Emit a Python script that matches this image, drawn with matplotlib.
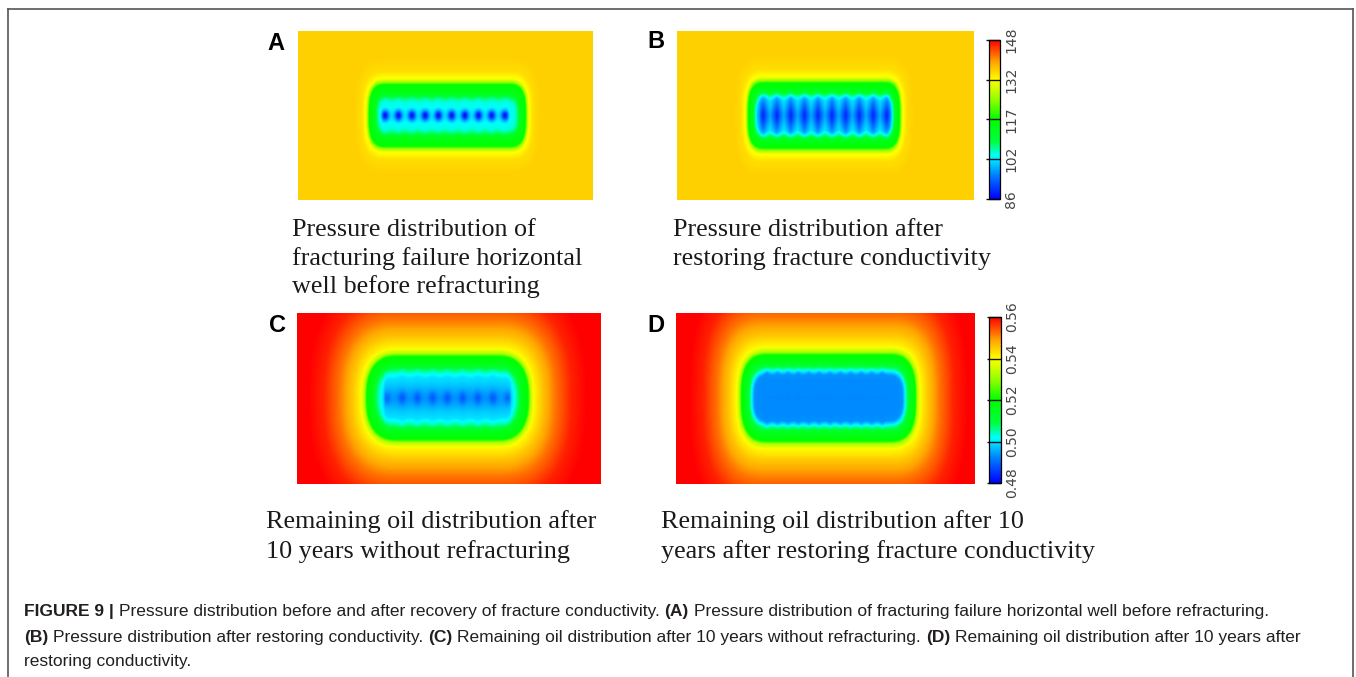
import numpy as np
import matplotlib
matplotlib.use("Agg")
import matplotlib.pyplot as plt
from matplotlib.colors import LinearSegmentedColormap
from matplotlib.lines import Line2D
from matplotlib import font_manager

W, H = 1356, 677

# ---------------- colour scale ----------------
cmap_pos = [0.0, 0.15, 0.27, 0.36, 0.50, 0.62, 0.75, 0.86, 1.0]
cmap_rgb = [(0, 0, 1), (0, 0.5, 1), (0, 1, 1), (0, 1, 0.25), (0, 1, 0),
            (0.55, 1, 0), (1, 1, 0), (1, 0.65, 0), (1, 0, 0)]

pressure_range = [86, 148]
pressure_ticks = ["86", "102", "117", "132", "148"]
oil_range = [0.48, 0.56]
oil_ticks = ["0.48", "0.50", "0.52", "0.54", "0.56"]

# ---------------- field descriptions (fraction of the colour scale) -------
# fracture positions along the well (fraction of panel width)
frac_A = [0.295, 0.340, 0.386, 0.431, 0.476, 0.521, 0.566, 0.612, 0.657, 0.702]
frac_B = [0.290, 0.336, 0.383, 0.429, 0.475, 0.522, 0.568, 0.614, 0.661, 0.707]
frac_C = [0.296, 0.346, 0.396, 0.446, 0.495, 0.545, 0.595, 0.645, 0.694]
frac_D = [0.304, 0.339, 0.374, 0.409, 0.444, 0.479, 0.515, 0.550, 0.585,
          0.620, 0.655, 0.690]

# radial profile from the well: normalised distance -> colour-scale fraction
r_A = [0, 0.36, 0.48, 0.64, 0.95, 1.00, 1.12, 1.35, 1.7]
v_A = [0.28, 0.285, 0.32, 0.44, 0.51, 0.62, 0.745, 0.79, 0.805]
r_B = [0, 0.42, 0.53, 0.68, 0.95, 1.00, 1.12, 1.35, 1.7]
v_B = [0.275, 0.28, 0.33, 0.44, 0.51, 0.62, 0.745, 0.79, 0.805]
r_C = [0, 0.45, 0.60, 0.76, 0.96, 1.02, 1.15, 1.40, 1.80, 2.30, 2.8]
v_C = [0.22, 0.25, 0.31, 0.44, 0.51, 0.66, 0.76, 0.82, 0.90, 0.97, 1.0]
r_D = [0, 0.50, 0.58, 0.68, 0.80, 0.96, 1.02, 1.15, 1.40, 1.80, 2.30, 2.8]
v_D = [0.16, 0.165, 0.25, 0.36, 0.45, 0.51, 0.66, 0.76, 0.82, 0.90, 0.97, 1.0]


def make_field(ua, ub, rx, ry, pw, r_k, v_k, fx, d_amp, d_sx, d_sy, d_pw,
               line_amp, line_sy, s_amp, s_sx, s_reach, nx=400, ny=230):
    u = np.linspace(0, 1, nx)
    v = np.linspace(0, 1, ny)
    U, V = np.meshgrid(u, v)
    dx = np.maximum(np.maximum(ua - U, U - ub), 0)
    dy = np.abs(V - 0.5)
    r = ((dx / rx) ** pw + (dy / ry) ** pw) ** (1.0 / pw)
    # scalloped inner boundary: fractures push the low zone outward
    bump = np.zeros_like(U)
    dots = np.zeros_like(U)
    for x in fx:
        du = np.abs(U - x)
        bump += np.exp(-(du / s_sx) ** 2)
        dots = np.maximum(dots, np.exp(-((du / d_sx) ** d_pw + (dy / d_sy) ** d_pw)))
    inner = np.exp(-(r / s_reach) ** 6)
    r_eff = r - s_amp * bump * inner
    f = np.interp(np.maximum(r_eff, 0), r_k, v_k)
    inside = (U > fx[0] - 0.01) & (U < fx[-1] + 0.01)
    f -= line_amp * np.exp(-(dy / line_sy) ** 2) * inside
    f -= d_amp * dots * inner
    return np.clip(f, 0, 1)


fig = plt.figure(figsize=(W / 100, H / 100), dpi=100)
fig.patch.set_facecolor("white")
cmap = LinearSegmentedColormap.from_list("tec", list(zip(cmap_pos, cmap_rgb)))


def add_ax(x0, y0, x1, y1):
    return fig.add_axes([x0 / W, 1 - y1 / H, (x1 - x0) / W, (y1 - y0) / H])


def panel(box, field, rng):
    ax = add_ax(*box)
    vals = rng[0] + field * (rng[1] - rng[0])
    im = ax.imshow(vals, origin="lower", extent=[0, 1, 0, 1], aspect="auto",
                   cmap=cmap, vmin=rng[0], vmax=rng[1], interpolation="bilinear")
    ax.set_xticks([])
    ax.set_yticks([])
    for s in ax.spines.values():
        s.set_visible(False)
    return im


fA = make_field(0.300, 0.713, 0.063, 0.195, 3.0, r_A, v_A, frac_A,
                0.23, 0.012, 0.030, 2, 0.035, 0.04, 0.07, 0.014, 0.62)
fB = make_field(0.295, 0.695, 0.059, 0.205, 3.0, r_B, v_B, frac_B,
                0.20, 0.019, 0.15, 1.3, 0.03, 0.06, 0.07, 0.014, 0.68)
fC = make_field(0.330, 0.660, 0.106, 0.254, 2.5, r_C, v_C, frac_C,
                0.06, 0.012, 0.035, 2, 0.05, 0.08, 0.06, 0.012, 0.66)
fD = make_field(0.310, 0.710, 0.096, 0.263, 2.8, r_D, v_D, frac_D,
                0.0, 0.01, 0.01, 2, 0.0, 0.05, 0.05, 0.008, 0.68)

imA = panel((298, 31, 593, 200), fA, pressure_range)
imB = panel((677, 31, 974, 200), fB, pressure_range)
imC = panel((297, 313, 601, 484), fC, oil_range)
imD = panel((676, 313, 975, 484), fD, oil_range)


def colorbar(im, box, rng, labels):
    cax = add_ax(*box)
    cb = fig.colorbar(im, cax=cax)
    cb.set_ticks(np.linspace(rng[0], rng[1], len(labels)))
    cb.set_ticklabels(labels)
    cb.outline.set_linewidth(0.9)
    cax.tick_params(direction="in", length=10, width=1.0, labelsize=10,
                    labelcolor="#444444", pad=3, color="#111111")
    plt.setp(cax.get_yticklabels(), rotation=90, va="center",
             family="DejaVu Sans")


colorbar(imB, (989, 40, 1000, 199), pressure_range, pressure_ticks)
colorbar(imD, (989, 317, 1001, 483), oil_range, oil_ticks)


def px(x, y):
    return x / W, 1 - y / H


# panel letters
for letter, (x, y) in zip("ABCD", [(276, 43), (656, 42), (277, 325), (656, 325)]):
    fig.text(*px(x, y), letter, ha="center", va="center", fontsize=17,
             fontweight="bold", family="Liberation Sans", color="black")

# sub-titles
serif = "Liberation Serif"
sub_fs = 18.8
subs = [
    (292, [236, 265, 293], ["Pressure distribution of",
                           "fracturing failure horizontal",
                           "well before refracturing"]),
    (673, [236, 265], ["Pressure distribution after",
                      "restoring fracture conductivity"]),
    (266, [528, 558], ["Remaining oil distribution after",
                      "10 years without refracturing"]),
    (661, [528, 558], ["Remaining oil distribution after 10",
                      "years after restoring fracture conductivity"]),
]
for x, ys, lines in subs:
    for y, line in zip(ys, lines):
        fig.text(*px(x, y), line, ha="left", va="baseline", fontsize=sub_fs,
                 family=serif, color="#1a1a1a")

# border
lc = "#555555"
fig.add_artist(Line2D([8 / W, 8 / W], [0, 1 - 9 / H], color=lc, lw=1.2))
fig.add_artist(Line2D([1353 / W, 1353 / W], [0, 1 - 9 / H], color=lc, lw=1.2))
fig.add_artist(Line2D([8 / W, 1353 / W], [1 - 9 / H, 1 - 9 / H], color=lc, lw=1.2))


# caption
def has_font(name):
    try:
        font_manager.findfont(font_manager.FontProperties(family=name),
                              fallback_to_default=False)
        return True
    except Exception:
        return False


cap_family = "Liberation Sans Narrow" if has_font("Liberation Sans Narrow") else "Liberation Sans"

cap_lines = [
    [("FIGURE 9 |", True),
     ("Pressure distribution before and after recovery of fracture conductivity.", False),
     ("(A)", True),
     ("Pressure distribution of fracturing failure horizontal well before refracturing.", False)],
    [("(B)", True), ("Pressure distribution after restoring conductivity.", False),
     ("(C)", True), ("Remaining oil distribution after 10 years without refracturing.", False),
     ("(D)", True), ("Remaining oil distribution after 10 years after", False)],
    [("restoring conductivity.", False)],
]
cap_base = [616, 642, 666]
cap_x0 = 24
cap_target_w = 1238

renderer = fig.canvas.get_renderer()


def text_w(s, fs, bold):
    t = fig.text(0, 0, s, fontsize=fs, family=cap_family,
                 fontweight="bold" if bold else "normal")
    w = t.get_window_extent(renderer).width
    t.remove()
    return w


def line_w(pieces, fs):
    sp = text_w("x x", fs, False) - text_w("xx", fs, False)
    return sum(text_w(s, fs, b) for s, b in pieces) + sp * (len(pieces) - 1)


fs0 = 11.0
cap_fs = fs0 * cap_target_w / line_w(cap_lines[0], fs0)
space = text_w("x x", cap_fs, False) - text_w("xx", cap_fs, False)

for pieces, yb in zip(cap_lines, cap_base):
    x = cap_x0
    for s, b in pieces:
        t = fig.text(*px(x, yb), s, ha="left", va="baseline", fontsize=cap_fs,
                     family=cap_family, fontweight="bold" if b else "normal",
                     color="#231f20")
        x += t.get_window_extent(renderer).width + space

fig.savefig("out.png", dpi=100, facecolor="white")
